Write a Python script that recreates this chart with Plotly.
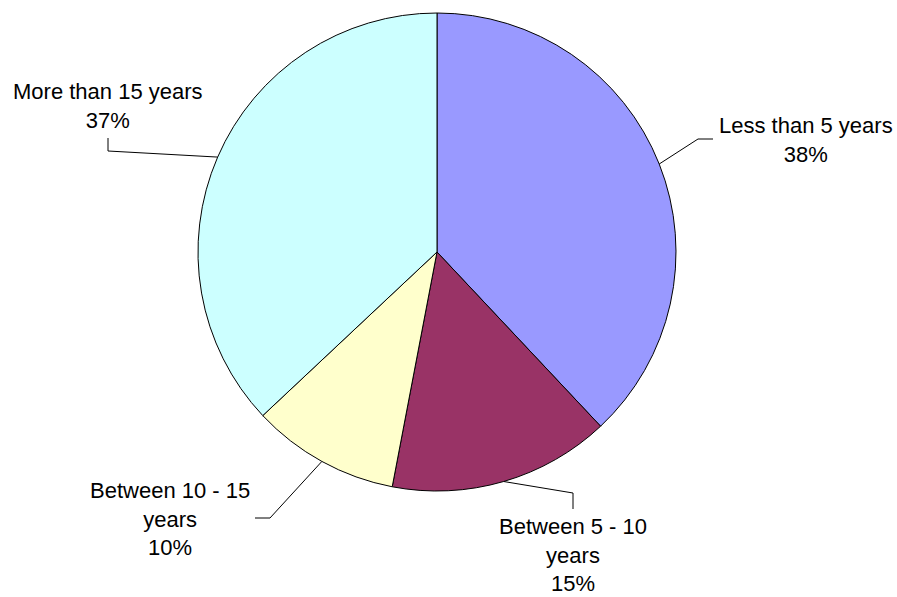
import math
import plotly.graph_objects as go

# Data
categories = ["Less than 5 years", "Between 5 - 10 years", "Between 10 - 15 years", "More than 15 years"]
label_lines = ["Less than 5 years", "Between 5 - 10<br>years", "Between 10 - 15<br>years", "More than 15 years"]
values = [38, 15, 10, 37]
colors = ["#9999FF", "#993366", "#FFFFCC", "#CCFFFF"]

W, H = 897, 597
CX, CY, R = 437, 252, 239  # pie centre and radius in pixels
FONT = dict(family="Liberation Sans, Arial, sans-serif", size=22, color="#000000")

# Leader layout for each label: elbow point, end point, text anchor (pixel space)
leaders = [
    dict(elbow=(698, 139), end=(713, 139), text=(717, 140), xanchor="left"),
    dict(elbow=(573, 493), end=(573, 509), text=(573, 555), xanchor="center"),
    dict(elbow=(270, 518), end=(255, 518), text=(252, 519), xanchor="right"),
    dict(elbow=(108, 151), end=(108, 138), text=(108, 106), xanchor="center"),
]


def px(x):
    return x / W


def py(y):
    return 1 - y / H


fig = go.Figure(go.Pie(
    labels=categories,
    values=values,
    sort=False,
    direction="clockwise",
    rotation=0,
    marker=dict(colors=colors, line=dict(color="#000000", width=1)),
    textinfo="none",
    hoverinfo="label+percent",
    domain=dict(x=[px(CX - R), px(CX + R)], y=[py(CY + R), py(CY - R)]),
    showlegend=False,
))

total = sum(values)
shapes = []
annotations = []
cum = 0.0
for name, val, lay in zip(label_lines, values, leaders):
    mid = (cum + val / 2) / total * 2 * math.pi
    cum += val
    sx = CX + R * math.sin(mid)
    sy = CY - R * math.cos(mid)
    ex, ey = lay["elbow"]
    fx, fy = lay["end"]
    path = f"M {px(sx)},{py(sy)} L {px(ex)},{py(ey)} L {px(fx)},{py(fy)}"
    shapes.append(dict(type="path", path=path, xref="paper", yref="paper",
                       line=dict(color="#000000", width=1)))
    pct = round(val / total * 100)
    tx, ty = lay["text"]
    annotations.append(dict(
        text=f"{name}<br>{pct}%", x=px(tx), y=py(ty), xref="paper", yref="paper",
        xanchor=lay["xanchor"], yanchor="middle", align="center",
        showarrow=False, font=FONT,
    ))

fig.update_layout(
    width=W, height=H,
    margin=dict(l=0, r=0, t=0, b=0),
    paper_bgcolor="#FFFFFF",
    plot_bgcolor="#FFFFFF",
    shapes=shapes,
    annotations=annotations,
)

fig.write_html("out.html")
